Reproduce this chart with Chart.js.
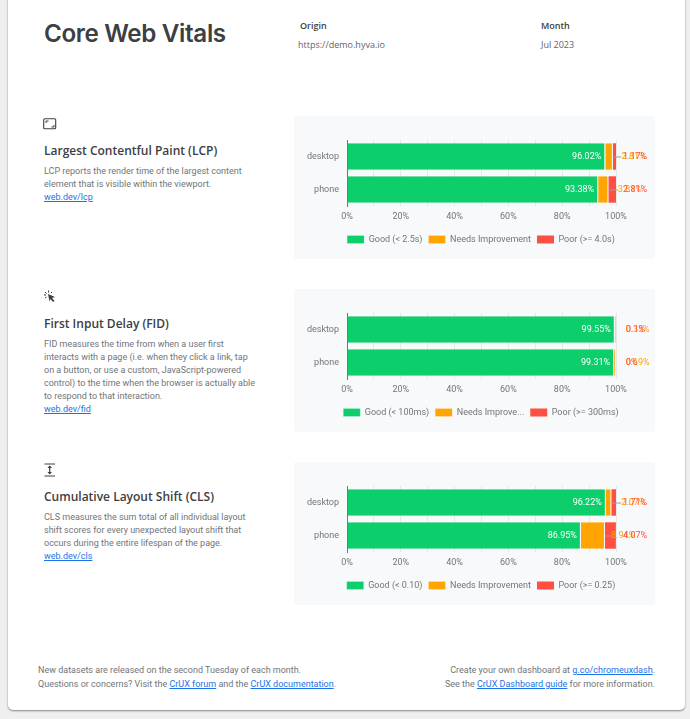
<!DOCTYPE html>
<html>
<head>
<meta charset="utf-8">
<title>Core Web Vitals</title>
<script src="https://cdn.jsdelivr.net/npm/chart.js@4"></script>
<style>
  html, body { margin: 0; padding: 0; }
  body { width: 690px; height: 719px; background: #efefef; overflow: hidden; font-family: Roboto, sans-serif; position: relative; }
  a { color: #1a73e8; text-decoration: underline; }
  .page { position: absolute; left: 8px; top: -5px; width: 677px; height: 715px; background: #fff; border-radius: 5px; box-shadow: 0 1px 2px rgba(0,0,0,.45); }
  .abs { position: absolute; white-space: nowrap; }
  h1 { position: absolute; left: 44px; top: 18px; margin: 0; font: 600 24.2px/32px Inter, sans-serif; letter-spacing: -.35px; color: #3c4043; }
  .meta-h { font: 600 9px/12px "Open Sans", sans-serif; color: #3c4043; }
  .meta-v { font: 400 9px/12px "Open Sans", sans-serif; color: #5f6368; }
  .metric { font: 600 12px/16px "Open Sans", sans-serif; color: #3c4043; }
  .desc { font: 400 9px/12.9px Roboto, sans-serif; color: #70757a; white-space: nowrap; }
  .foot { font: 400 9px/13.5px Roboto, sans-serif; color: #70757a; white-space: nowrap; }
  .panel { position: absolute; left: 294px; width: 361px; height: 143px; background: #f8f9fa; border-radius: 2px; }
  canvas { position: absolute; left: 4px; top: 0; }
  svg { position: absolute; }
</style>
</head>
<body>
<div class="page"></div>

<h1>Core Web Vitals</h1>
<div class="abs meta-h" style="left:300px;top:20px">Origin</div>
<div class="abs meta-v" style="left:298px;top:39px">https://demo.hyva.io</div>
<div class="abs meta-h" style="left:541px;top:20px">Month</div>
<div class="abs meta-v" style="left:541px;top:39px">Jul 2023</div>

<svg style="left:43px;top:118px" width="14" height="12" viewBox="0 0 14 12">
  <rect x=".7" y=".7" width="12" height="10" rx="1" fill="none" stroke="#3c4043" stroke-width="1.1"/>
  <path d="M3 5V3h2.500M11 7v2H8.500" fill="none" stroke="#3c4043" stroke-width="1"/>
</svg>
<div class="abs metric" style="left:44px;top:143px">Largest Contentful Paint (LCP)</div>
<div class="abs desc" style="left:44px;top:165px">LCP reports the render time of the largest content<br>element that is visible within the viewport.<br><a href="#">web.dev/lcp</a></div>

<svg style="left:43px;top:290px" width="13" height="13" viewBox="0 0 13 13">
  <path d="M5 4l7 3-3 1 2.500 3-1.500 1-2.500-3-1 2.500z" fill="#3c4043"/>
  <path d="M1 5h2M2 8l1.500-1M2 2l1.500 1.500M5.500.5v2M9 2L8 3" stroke="#3c4043" stroke-width="1" fill="none"/>
</svg>
<div class="abs metric" style="left:44px;top:316px">First Input Delay (FID)</div>
<div class="abs desc" style="left:44px;top:338px">FID measures the time from when a user first<br>interacts with a page (i.e. when they click a link, tap<br>on a button, or use a custom, JavaScript-powered<br>control) to the time when the browser is actually able<br>to respond to that interaction.<br><a href="#">web.dev/fid</a></div>

<svg style="left:44px;top:463px" width="12" height="14" viewBox="0 0 12 14">
  <path d="M.5 1h10.500M.500 13h10.500" stroke="#3c4043" stroke-width="1" fill="none"/>
  <path d="M5.700 3v8" stroke="#3c4043" stroke-width="1.200"/>
  <path d="M3.500 5l2.200-2.500L8 5zM3.500 9l2.200 2.500L8 9z" fill="#3c4043"/>
</svg>
<div class="abs metric" style="left:44px;top:489px">Cumulative Layout Shift (CLS)</div>
<div class="abs desc" style="left:44px;top:511px">CLS measures the sum total of all individual layout<br>shift scores for every unexpected layout shift that<br>occurs during the entire lifespan of the page.<br><a href="#">web.dev/cls</a></div>

<div class="panel" style="top:116px"><canvas id="lcpChart" width="366" height="143"></canvas></div>
<div class="panel" style="top:289px"><canvas id="fidChart" width="366" height="143"></canvas></div>
<div class="panel" style="top:462px"><canvas id="clsChart" width="366" height="143"></canvas></div>

<div class="abs foot" style="left:38px;top:664px">New datasets are released on the second Tuesday of each month.<br>Questions or concerns? Visit the <a href="#">CrUX forum</a> and the <a href="#">CrUX documentation</a>.</div>
<div class="abs foot" style="right:35px;top:664px;text-align:right">Create your own dashboard at <a href="#">g.co/chromeuxdash</a>.<br>See the <a href="#">CrUX Dashboard guide</a> for more information.</div>

<script>
const devices = ['desktop', 'phone'];
const tickStep = 10;

const lcpGood = [96.02, 93.38];
const lcpNeeds = [2.81, 3.81];
const lcpPoor = [1.17, 2.81];
const lcpLegend = ['Good (< 2.5s)', 'Needs Improvement', 'Poor (>= 4.0s)'];

const fidGood = [99.55, 99.31];
const fidNeeds = [0.35, 0.69];
const fidPoor = [0.1, 0];
const fidLegend = ['Good (< 100ms)', 'Needs Improve...', 'Poor (>= 300ms)'];

const clsGood = [96.22, 86.95];
const clsNeeds = [2.07, 8.94];
const clsPoor = [1.71, 4.07];
const clsLegend = ['Good (< 0.10)', 'Needs Improvement', 'Poor (>= 0.25)'];

const GREEN = '#0cce6b';
const ORANGE = '#ffa400';
const RED = '#ff4e42';
const TEXT = '#757575';

// the value labels: white inside the green bar, the other two pushed past 100% and left to overlap
const barLabels = {
  id: 'barLabels',
  afterDatasetsDraw(chart) {
    const ctx = chart.ctx;
    const right = chart.chartArea.right;
    ctx.save();
    ctx.font = '9px Roboto';
    ctx.textBaseline = 'middle';

    chart.data.labels.forEach((name, i) => {
      const good = chart.getDatasetMeta(0).data[i];
      const needs = chart.getDatasetMeta(1).data[i];
      const poor = chart.getDatasetMeta(2).data[i];
      const needsVal = chart.data.datasets[1].data[i];
      const poorVal = chart.data.datasets[2].data[i];

      ctx.textAlign = 'right';
      ctx.fillStyle = '#fff';
      ctx.fillText(chart.data.datasets[0].data[i] + '%', good.x - 4, good.y);

      ctx.textAlign = 'left';
      const center = needs.x - (needs.x - good.x) / 2;
      const needsX = right + 10 - (right - center) * 0.65;

      if (needsVal >= 1) {
        ctx.strokeStyle = '#9e9e9e';
        ctx.lineWidth = 1;
        ctx.beginPath();
        ctx.moveTo(needs.x, needs.y + 0.5);
        ctx.lineTo(needsX, needs.y + 0.5);
        ctx.stroke();
      }

      ctx.fillStyle = ORANGE;
      ctx.fillText(needsVal + '%', needsX, needs.y);
      ctx.fillStyle = RED;
      ctx.fillText(poorVal + '%', right + (poorVal < 0.5 ? 10 : 7), poor.y);
    });
    ctx.restore();
  }
};

function makeChart(id, good, needs, poor, legend) {
  const sets = [good, needs, poor].map((values, i) => ({
    label: legend[i],
    data: values,
    backgroundColor: [GREEN, ORANGE, RED][i],
    borderColor: '#f8f9fa',
    borderWidth: { right: i < 2 ? 1 : 0 },
    borderSkipped: false,
    stack: 'total',
    barPercentage: 0.8,
    categoryPercentage: 1
  }));

  return new Chart(document.getElementById(id), {
    type: 'bar',
    data: { labels: devices, datasets: sets },
    plugins: [barLabels],
    options: {
      indexAxis: 'y',
      responsive: false,
      animation: false,
      layout: { padding: { top: 24, right: 0, bottom: 5, left: 0 } },
      plugins: {
        tooltip: { enabled: false },
        legend: {
          position: 'bottom',
          labels: { boxWidth: 17, boxHeight: 8, padding: 6, color: TEXT, font: { family: 'Roboto', size: 9 } }
        }
      },
      scales: {
        x: {
          stacked: true,
          min: 0,
          max: 100,
          // room for the overflowing labels, kept out of layout.padding so the legend stays centred on the canvas
          afterFit(scale) { scale.height = 23; scale.paddingRight = 48; },
          grid: { color: '#e6e7e8', drawTicks: false },
          border: { display: false },
          ticks: {
            stepSize: tickStep,
            autoSkip: false,
            maxRotation: 0,
            padding: 5,
            color: TEXT,
            font: { family: 'Roboto', size: 9 },
            callback: v => (v % 20 === 0 ? v + '%' : '')
          }
        },
        y: {
          stacked: true,
          afterFit(scale) { scale.width = 49; },
          grid: { display: false, drawTicks: false },
          border: { display: true, color: '#757575' },
          ticks: { padding: 8, color: TEXT, font: { family: 'Roboto', size: 9 } }
        }
      }
    }
  });
}

makeChart('lcpChart', lcpGood, lcpNeeds, lcpPoor, lcpLegend);
makeChart('fidChart', fidGood, fidNeeds, fidPoor, fidLegend);
makeChart('clsChart', clsGood, clsNeeds, clsPoor, clsLegend);
</script>
</body>
</html>
